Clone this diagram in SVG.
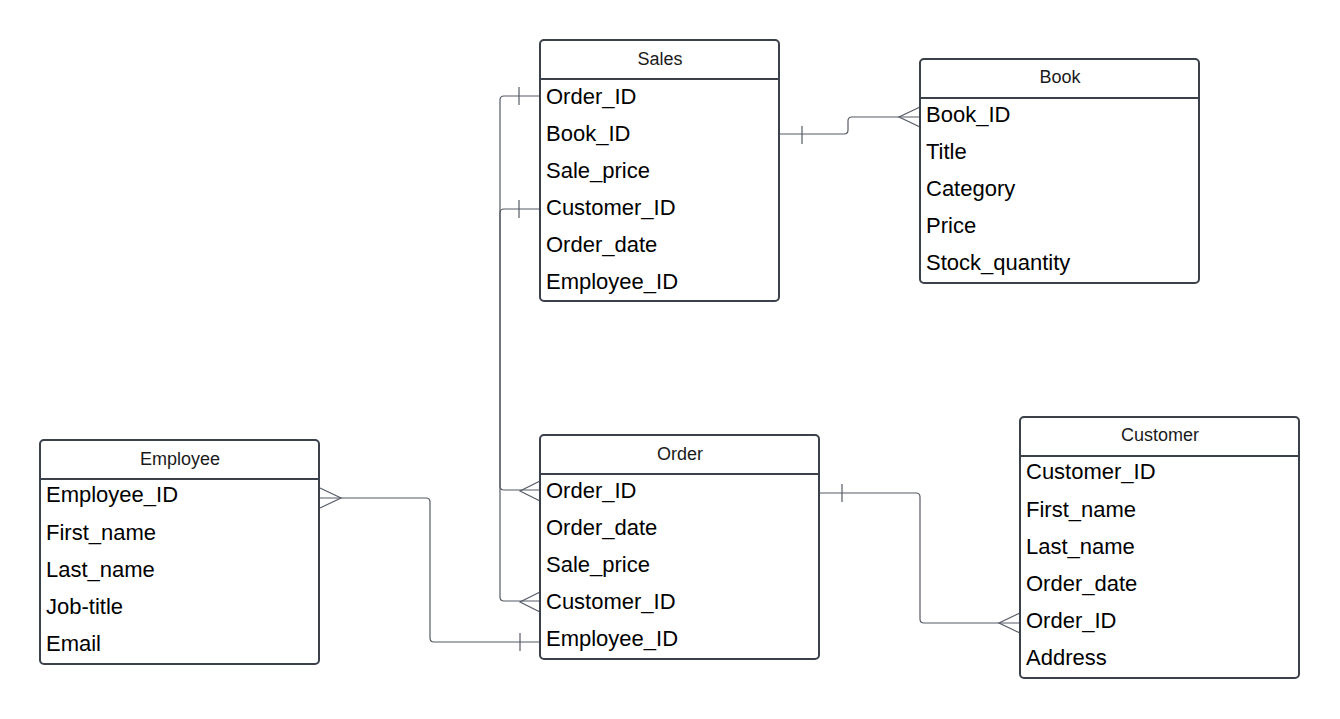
<svg xmlns="http://www.w3.org/2000/svg" width="1340" height="719" viewBox="0 0 1340 719">
<style>
.box{fill:#ffffff;stroke:#3b414b;stroke-width:2}
.hl{stroke:#3b414b;stroke-width:2}
.h{font-family:"Liberation Sans",Arial,sans-serif;font-size:18px;fill:#1a1a1a;text-anchor:middle}
.r{font-family:"Liberation Sans",Arial,sans-serif;font-size:22px;fill:#000000}
.c{fill:none;stroke:#555b66;stroke-width:1.2}
</style>
<rect width="1340" height="719" fill="#ffffff"/>
<g id="connectors">
<!-- Sales.Order_ID -> Order.Order_ID -->
<path class="c" d="M540,96 H504 Q500,96 500,100 V486 Q500,490 504,490 H540"/>
<path class="c" d="M519,87 V105"/>
<path class="c" d="M540,481 L520,491 L540,501"/>
<!-- Sales.Customer_ID -> Order.Customer_ID -->
<path class="c" d="M540,209 H504 Q500,209 500,213 V597 Q500,601 504,601 H540"/>
<path class="c" d="M519,200 V218"/>
<path class="c" d="M540,592 L520,602 L540,612"/>
<!-- Sales.Book_ID -> Book.Book_ID -->
<path class="c" d="M780,134 H844 Q848,134 848,130 V121 Q848,117 852,117 H920"/>
<path class="c" d="M802,126 V144"/>
<path class="c" d="M920,107 L899,117 L920,127"/>
<!-- Employee.Employee_ID -> Order.Employee_ID -->
<path class="c" d="M320,498 H426 Q430,498 430,502 V638 Q430,642 434,642 H540"/>
<path class="c" d="M320,488 L341,498 L320,508"/>
<path class="c" d="M520,633 V651"/>
<!-- Order.Order_ID -> Customer.Order_ID -->
<path class="c" d="M820,493 H916 Q920,493 920,497 V619 Q920,623 924,623 H1020"/>
<path class="c" d="M842,484 V502"/>
<path class="c" d="M1020,613 L999,623 L1020,633"/>
</g>
<g id="sales">
<rect class="box" x="540" y="40" width="239" height="261" rx="4"/>
<line class="hl" x1="540" y1="79" x2="779" y2="79"/>
<text class="h" x="660" y="65">Sales</text>
<text class="r" x="546" y="104">Order_ID</text>
<text class="r" x="546" y="141">Book_ID</text>
<text class="r" x="546" y="178">Sale_price</text>
<text class="r" x="546" y="215">Customer_ID</text>
<text class="r" x="546" y="252">Order_date</text>
<text class="r" x="546" y="289">Employee_ID</text>
</g>
<g id="book">
<rect class="box" x="920" y="59" width="279" height="224" rx="4"/>
<line class="hl" x1="920" y1="98" x2="1199" y2="98"/>
<text class="h" x="1060" y="83">Book</text>
<text class="r" x="926" y="122">Book_ID</text>
<text class="r" x="926" y="159">Title</text>
<text class="r" x="926" y="196">Category</text>
<text class="r" x="926" y="233">Price</text>
<text class="r" x="926" y="270">Stock_quantity</text>
</g>
<g id="employee">
<rect class="box" x="40" y="440" width="279" height="224" rx="4"/>
<line class="hl" x1="40" y1="479" x2="319" y2="479"/>
<text class="h" x="180" y="465">Employee</text>
<text class="r" x="46" y="502">Employee_ID</text>
<text class="r" x="46" y="540">First_name</text>
<text class="r" x="46" y="577">Last_name</text>
<text class="r" x="46" y="614">Job-title</text>
<text class="r" x="46" y="651">Email</text>
</g>
<g id="order">
<rect class="box" x="540" y="435" width="279" height="224" rx="4"/>
<line class="hl" x1="540" y1="474" x2="819" y2="474"/>
<text class="h" x="680" y="460">Order</text>
<text class="r" x="546" y="498">Order_ID</text>
<text class="r" x="546" y="535">Order_date</text>
<text class="r" x="546" y="572">Sale_price</text>
<text class="r" x="546" y="609">Customer_ID</text>
<text class="r" x="546" y="646">Employee_ID</text>
</g>
<g id="customer">
<rect class="box" x="1020" y="417" width="279" height="261" rx="4"/>
<line class="hl" x1="1020" y1="456" x2="1299" y2="456"/>
<text class="h" x="1160" y="441">Customer</text>
<text class="r" x="1026" y="479">Customer_ID</text>
<text class="r" x="1026" y="517">First_name</text>
<text class="r" x="1026" y="554">Last_name</text>
<text class="r" x="1026" y="591">Order_date</text>
<text class="r" x="1026" y="628">Order_ID</text>
<text class="r" x="1026" y="665">Address</text>
</g>
</svg>
